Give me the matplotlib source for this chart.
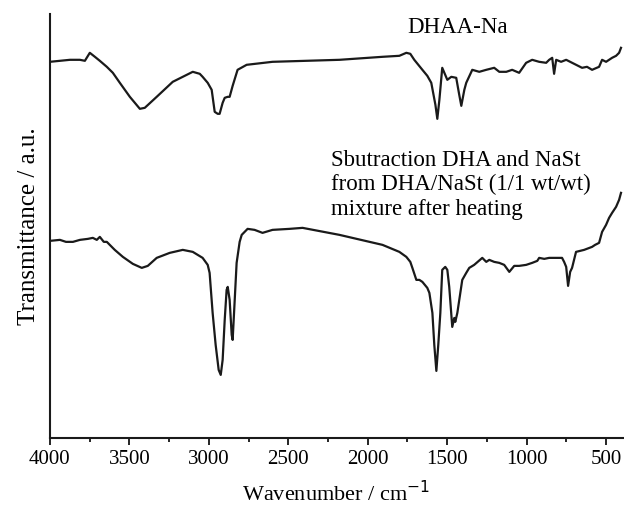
import matplotlib
matplotlib.use("Agg")
import matplotlib.pyplot as plt
from matplotlib.ticker import MultipleLocator

plt.rcParams['font.family'] = ['Liberation Serif', 'DejaVu Serif']

# DHAA-Na spectrum (wavenumber, transmittance a.u.)
wn_dhaa = [4000, 3937, 3874, 3811, 3780, 3749, 3717, 3686, 3642, 3604, 3560,
           3497, 3434, 3403, 3328, 3227, 3101, 3057, 3039, 3007, 2982, 2963,
           2944, 2932, 2913, 2900, 2881, 2869, 2850, 2819, 2762, 2599, 2178,
           1907, 1801, 1757, 1732, 1707, 1656, 1625, 1600, 1574, 1562, 1549,
           1531, 1499, 1474, 1443, 1424, 1411, 1392, 1380, 1342, 1298, 1254,
           1204, 1172, 1128, 1091, 1047, 1003, 965, 921, 877, 858, 839, 827,
           814, 783, 751, 701, 651, 620, 588, 544, 525, 500, 462, 437, 418, 406]
t_dhaa = [376, 377, 378, 378, 377, 385, 381, 377, 371, 365, 355,
          341, 329, 330, 341, 356, 366, 364, 361, 355, 348, 326,
          324, 324, 335, 340, 341, 341, 352, 368, 373, 376, 378,
          381, 382, 385, 384, 378, 368, 362, 355, 333, 319, 338,
          370, 358, 361, 360, 343, 332, 348, 355, 368, 366, 368,
          370, 366, 366, 368, 365, 375, 378, 376, 375, 378, 380, 364,
          378, 376, 378, 374, 370, 371, 368, 371, 378, 376, 380, 382, 385, 390]

# subtraction spectrum, DHA and NaSt from DHA/NaSt mixture after heating
wn_sub = [4000, 3937, 3899, 3855, 3811, 3761, 3730, 3705, 3686, 3661, 3642,
          3592, 3541, 3478, 3422, 3384, 3328, 3246, 3164, 3101, 3039, 3007,
          2995, 2976, 2957, 2938, 2925, 2913, 2900, 2888, 2881, 2869, 2856,
          2850, 2837, 2825, 2806, 2793, 2756, 2712, 2662, 2599, 2492, 2410,
          2178, 1907, 1801, 1757, 1732, 1719, 1694, 1675, 1656, 1625, 1612,
          1593, 1581, 1568, 1556, 1543, 1531, 1512, 1499, 1487, 1468, 1455,
          1449, 1436, 1405, 1380, 1361, 1330, 1279, 1254, 1235, 1204, 1172,
          1141, 1109, 1078, 1047, 1003, 965, 933, 921, 889, 858, 814, 777,
          764, 751, 739, 726, 714, 689, 638, 588, 569, 544, 525, 500, 481,
          462, 437, 418, 406]
t_sub = [197, 198, 196, 196, 198, 199, 200, 198, 201, 196, 196,
         188, 181, 174, 170, 172, 180, 185, 188, 186, 180, 173,
         165, 125, 93, 68, 63, 78, 118, 148, 151, 138, 103,
         98, 138, 175, 196, 203, 209, 208, 205, 208, 209, 210,
         203, 193, 186, 181, 176, 170, 158, 158, 156, 150, 145,
         125, 93, 67, 93, 125, 168, 171, 168, 151, 111, 120,
         116, 125, 158, 165, 170, 173, 180, 176, 178, 176, 175,
         173, 166, 172, 172, 173, 175, 177, 180, 179, 180, 180, 180,
         176, 171, 152, 166, 170, 186, 188, 191, 193, 195, 206, 213, 220,
         225, 231, 238, 245]

labels = ["DHAA-Na",
          "Sbutraction DHA and NaSt\nfrom DHA/NaSt (1/1 wt/wt)\nmixture after heating"]

fig = plt.figure(figsize=(6.24, 5.11), dpi=100)
ax = fig.add_axes([0.080, 0.143, 0.918, 0.830])

ax.plot(wn_dhaa, t_dhaa, color='#1a1a1a', lw=1.6)
ax.plot(wn_sub, t_sub, color='#1a1a1a', lw=1.6)

ax.set_xlim(4000, 395)
ax.set_ylim(0, 424)
ax.xaxis.set_major_locator(MultipleLocator(500))
ax.xaxis.set_minor_locator(MultipleLocator(250))
ax.set_yticks([])
ax.tick_params(axis='x', which='major', direction='out', length=5, width=1.2,
               labelsize=15, pad=4)
ax.tick_params(axis='x', which='minor', direction='out', length=3, width=1.2)

for side in ['top', 'right']:
    ax.spines[side].set_visible(False)
for side in ['left', 'bottom']:
    ax.spines[side].set_linewidth(1.5)
    ax.spines[side].set_color('#1a1a1a')

ax.text(1436, 410, labels[0], fontsize=16.5, ha='center', va='center')
ax.text(2228, 253, labels[1], fontsize=16.5, ha='left', va='center',
        linespacing=1.2)

ax.set_xlabel("Wavenumber / cm$^{-1}$", fontsize=16, labelpad=8)
ax.set_ylabel("Transmittance / a.u.", fontsize=18, labelpad=7)

fig.savefig("out.png", dpi=100)
